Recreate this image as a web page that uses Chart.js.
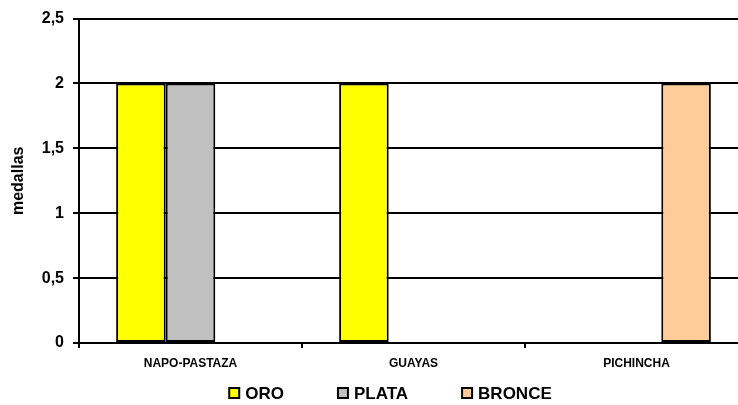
<!DOCTYPE html>
<html>
<head>
<meta charset="utf-8">
<script src="https://cdn.jsdelivr.net/npm/chart.js@4.4.0/dist/chart.umd.min.js"></script>
<style>
  html, body { margin: 0; padding: 0; background: #fff; overflow: hidden; }
  #wrap { width: 780px; height: 405px; }
</style>
</head>
<body>
<div id="wrap"><canvas id="chart" width="780" height="405"></canvas></div>
<script>
const categories = ['NAPO-PASTAZA', 'GUAYAS', 'PICHINCHA'];
const oro = [2, 2, 0];
const plata = [2, 0, 0];
const bronce = [0, 0, 2];
const yTicks = [0, 0.5, 1, 1.5, 2, 2.5];

const FONT = '"Liberation Sans", Arial, sans-serif';

// legend drawn under the x axis, spaced like the original
const bottomLegend = {
  id: 'bottomLegend',
  afterDraw(chart) {
    const c = chart.ctx;
    const gap = 53, box = 10;
    c.save();
    c.font = 'bold 17px ' + FONT;
    c.textBaseline = 'middle';
    const items = chart.data.datasets.map(ds => ({
      text: ds.label,
      fill: ds.backgroundColor,
      w: box + 2 + 5 + c.measureText(ds.label).width
    }));
    const total = items.reduce((a, it) => a + it.w, 0) + gap * (items.length - 1);
    let x = chart.width / 2 - total / 2;
    const y = 393;
    items.forEach(it => {
      c.fillStyle = it.fill;
      c.fillRect(x + 1, y - 5, box, box);
      c.strokeStyle = '#000';
      c.lineWidth = 2;
      c.strokeRect(x + 1, y - 5, box, box);
      c.fillStyle = '#000';
      c.fillText(it.text, x + box + 2 + 5, y + 1);
      x += it.w + gap;
    });
    c.restore();
  }
};

const ctx = document.getElementById('chart').getContext('2d');
new Chart(ctx, {
  type: 'bar',
  data: {
    labels: categories,
    datasets: [
      { label: 'ORO', data: oro, backgroundColor: '#FFFF00', borderColor: '#000', borderWidth: 2, borderSkipped: false },
      { label: 'PLATA', data: plata, backgroundColor: '#C0C0C0', borderColor: '#000', borderWidth: 2, borderSkipped: false },
      { label: 'BRONCE', data: bronce, backgroundColor: '#FFCC99', borderColor: '#000', borderWidth: 2, borderSkipped: false }
    ]
  },
  options: {
    responsive: false,
    animation: false,
    layout: { padding: { top: 11, right: 32, left: 0, bottom: 32 } },
    datasets: { bar: { categoryPercentage: 0.667, barPercentage: 1 } },
    plugins: {
      tooltip: { enabled: false },
      legend: { display: false }
    },
    scales: {
      x: {
        offset: true,
        grid: { offset: true, drawOnChartArea: false, color: '#000', lineWidth: 2, tickLength: 5 },
        border: { color: '#000', width: 2 },
        ticks: { color: '#000', padding: 8, maxRotation: 0, font: { family: FONT, size: 12, weight: 'bold' } },
        afterFit: s => { s.height = 30; }
      },
      y: {
        min: 0,
        max: 2.5,
        afterBuildTicks: s => { s.ticks = yTicks.map(v => ({ value: v })); },
        grid: { color: '#000', lineWidth: 2, tickLength: 6 },
        border: { color: '#000', width: 2 },
        ticks: {
          color: '#000',
          padding: 9,
          font: { family: FONT, size: 16, weight: 'bold' },
          callback: v => String(v).replace('.', ',')
        },
        title: {
          display: true,
          text: 'medallas',
          color: '#000',
          padding: { top: 9, bottom: 0 },
          font: { family: FONT, size: 16, weight: 'bold' }
        },
        afterFit: s => { s.width = 79; }
      }
    }
  },
  plugins: [bottomLegend]
});
</script>
</body>
</html>
